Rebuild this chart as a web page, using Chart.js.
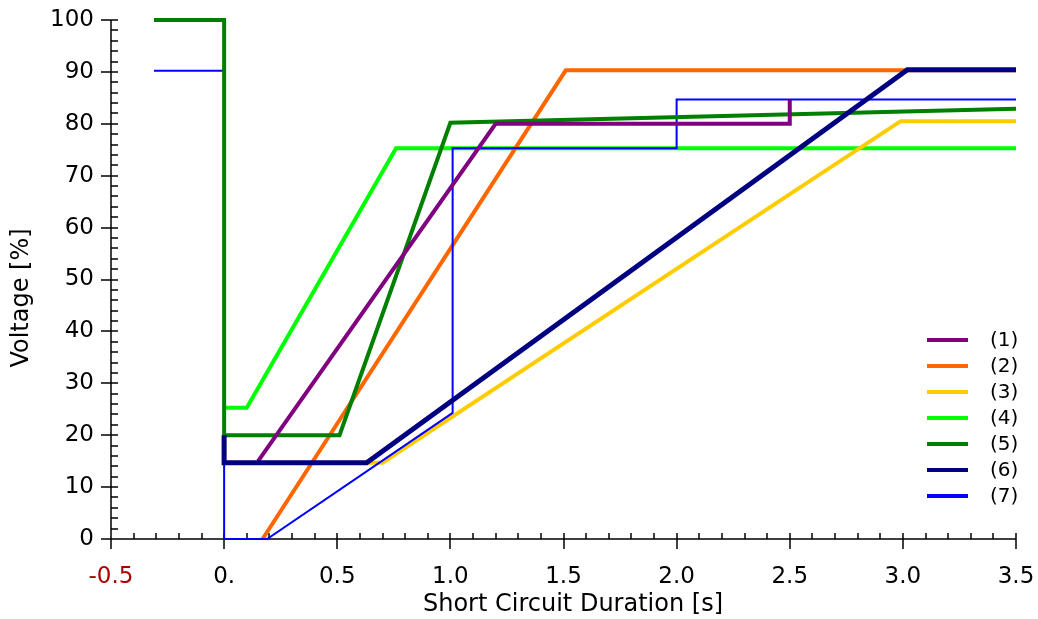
<!DOCTYPE html>
<html>
<head>
<meta charset="utf-8">
<script src="https://cdn.jsdelivr.net/npm/chart.js@4"></script>
<style>
    html, body { margin: 0; padding: 0; background: #fff; }
    canvas { display: block; }
</style>
</head>
<body>
<canvas id="chart" width="1038" height="619"></canvas>
<script>
/* ========== DADOS ========== */
const seriesNames = ['(1)', '(2)', '(3)', '(4)', '(5)', '(6)', '(7)'];

const s1X = [0.15, 1.2, 2.5, 2.5];
const s1Y = [15, 80, 80, 84.6];
const s2X = [0.17, 1.51, 3.5];
const s2Y = [0, 90.3, 90.3];
const s3X = [0.63, 0.7, 2.99, 3.5];
const s3Y = [14.7, 14.7, 80.5, 80.5];
const s4X = [0, 0.1, 0.76, 3.5];
const s4Y = [25.3, 25.3, 75.3, 75.3];
const s5X = [-0.31, 0, 0, 0.51, 1.0, 3.5];
const s5Y = [100, 100, 20, 20, 80.2, 82.9];
const s6X = [0, 0, 0.63, 3.02, 3.5];
const s6Y = [20, 14.7, 14.7, 90.4, 90.4];
const s7X = [-0.31, 0, 0, 0.19, 1.01, 1.01, 2.0, 2.0, 3.5];
const s7Y = [90.2, 90.2, 0, 0, 24.3, 75.3, 75.3, 84.7, 84.7];

const xTickVals = [-0.5, 0, 0.5, 1.0, 1.5, 2.0, 2.5, 3.0, 3.5];
const xTickLabels = ['-0.5', '0.', '0.5', '1.0', '1.5', '2.0', '2.5', '3.0', '3.5'];
const yTickVals = [0, 10, 20, 30, 40, 50, 60, 70, 80, 90, 100];

const FONT = 'DejaVu Sans';

function pts(xs, ys) {
    return xs.map((x, i) => ({ x: x, y: ys[i] }));
}

function serie(i, xs, ys, color, width, order) {
    return {
        label: seriesNames[i],
        data: pts(xs, ys),
        borderColor: color,
        backgroundColor: color,
        borderWidth: width,
        pointRadius: 0,
        showLine: true,
        fill: false,
        tension: 0,
        clip: false,
        borderJoinStyle: 'miter',
        borderCapStyle: 'butt',
        order: order
    };
}

/* ========== EIXOS (ticks menores) ========== */
const axesPlugin = {
    id: 'axesPlugin',
    beforeDatasetsDraw(chart) {
        const { ctx, scales: { x, y } } = chart;
        const ax = x.left, ay = y.bottom;
        ctx.save();
        ctx.strokeStyle = '#000';
        ctx.lineWidth = 1.5;
        ctx.beginPath();
        ctx.moveTo(x.left, ay); ctx.lineTo(x.right, ay);
        ctx.moveTo(ax, y.top); ctx.lineTo(ax, y.bottom);
        // ticks x: 0.1 cada
        for (let i = 0; i <= 40; i++) {
            const px = Math.round(x.getPixelForValue(-0.5 + i / 10));
            const major = i % 5 === 0;
            ctx.moveTo(px, ay + (major ? 10 : 0));
            ctx.lineTo(px, ay - 6);
        }
        // ticks y: 2 cada
        for (let i = 0; i <= 50; i++) {
            const py = Math.round(y.getPixelForValue(i * 2));
            const major = i % 5 === 0;
            ctx.moveTo(ax - (major ? 10 : 0), py);
            ctx.lineTo(ax + 7, py);
        }
        ctx.stroke();
        ctx.restore();
    },
    afterDraw(chart) {
        const { ctx } = chart;
        ctx.save();
        ctx.fillStyle = '#000';
        // títulos dos eixos
        ctx.font = '24px "' + FONT + '"';
        ctx.textAlign = 'center';
        ctx.textBaseline = 'middle';
        ctx.fillText('Short Circuit Duration [s]', 573, 605);
        ctx.translate(22, 298);
        ctx.rotate(-Math.PI / 2);
        ctx.fillText('Voltage [%]', 0, 0);
        ctx.restore();

        // legenda
        ctx.save();
        ctx.font = '20px "' + FONT + '"';
        ctx.textAlign = 'left';
        ctx.textBaseline = 'middle';
        chart.data.datasets.forEach((ds, i) => {
            const yy = 340 + i * 26;
            ctx.strokeStyle = ds.borderColor;
            ctx.lineWidth = 4;
            ctx.beginPath();
            ctx.moveTo(927, yy);
            ctx.lineTo(968, yy);
            ctx.stroke();
            ctx.fillStyle = '#000';
            ctx.fillText(ds.label, 990, yy + 1);
        });
        ctx.restore();
    }
};

/* ========== GRÁFICO ========== */
const ctx = document.getElementById('chart').getContext('2d');
new Chart(ctx, {
    type: 'scatter',
    data: {
        datasets: [
            serie(0, s1X, s1Y, '#800080', 4, 2),
            serie(1, s2X, s2Y, '#ff6600', 4, 6),
            serie(2, s3X, s3Y, '#ffcc00', 4, 5),
            serie(3, s4X, s4Y, '#00ff00', 4, 7),
            serie(4, s5X, s5Y, '#008000', 4, 3),
            serie(5, s6X, s6Y, '#000080', 5, 1),
            serie(6, s7X, s7Y, '#0000ff', 2, 4)
        ]
    },
    options: {
        responsive: false,
        devicePixelRatio: 1,
        animation: false,
        layout: { padding: { top: 20, right: 22, bottom: 0, left: 0 } },
        plugins: {
            legend: { display: false },
            tooltip: { enabled: false }
        },
        scales: {
            x: {
                type: 'linear',
                min: -0.5,
                max: 3.5,
                afterBuildTicks: s => { s.ticks = xTickVals.map(v => ({ value: v })); },
                afterFit: s => { s.height = 80; s.paddingLeft = 0; s.paddingRight = 0; },
                grid: { display: false, drawTicks: false },
                border: { display: false },
                ticks: {
                    autoSkip: false,
                    maxRotation: 0,
                    padding: 24,
                    font: { family: FONT, size: 23 },
                    color: c => c.tick && c.tick.value === -0.5 ? '#aa0000' : '#000',
                    callback: (v, i) => xTickLabels[i]
                }
            },
            y: {
                type: 'linear',
                min: 0,
                max: 100,
                afterBuildTicks: s => { s.ticks = yTickVals.map(v => ({ value: v })); },
                afterFit: s => { s.width = 111; s.paddingTop = 0; s.paddingBottom = 0; },
                grid: { display: false, drawTicks: false },
                border: { display: false },
                ticks: {
                    autoSkip: false,
                    padding: 17,
                    font: { family: FONT, size: 23 },
                    color: '#000'
                }
            }
        }
    },
    plugins: [axesPlugin]
});
</script>
</body>
</html>
